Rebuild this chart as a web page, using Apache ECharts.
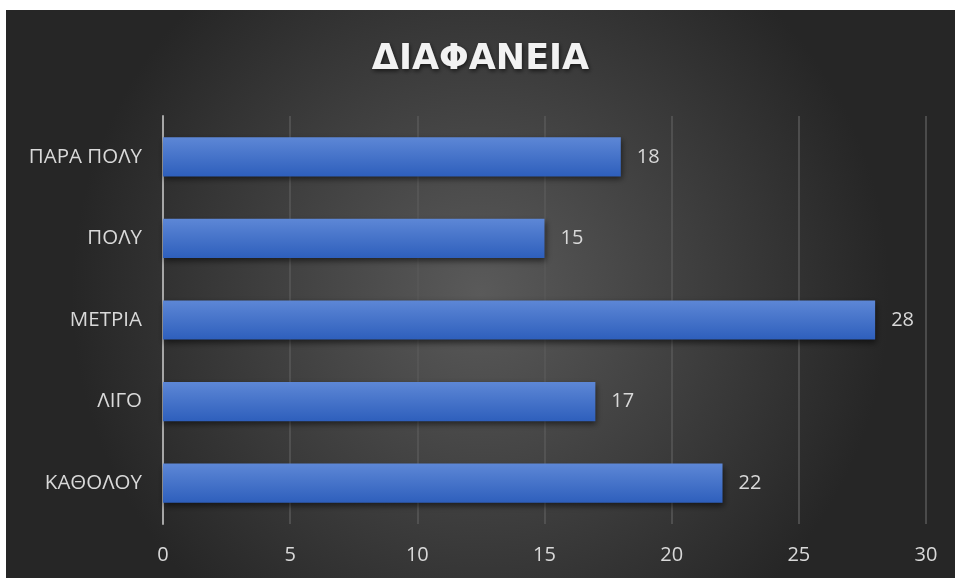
<!DOCTYPE html>
<html>
<head>
<meta charset="utf-8">
<script src="https://cdn.jsdelivr.net/npm/echarts@6/dist/echarts.min.js"></script>
<style>
  html, body { margin: 0; padding: 0; background: #ffffff; }
  #chart { position: absolute; left: 6px; top: 10px; width: 949px; height: 568px; }
</style>
</head>
<body>
<div id="chart"></div>
<script>
// Response categories, bottom to top as drawn on the y axis
const categories = ['ΚΑΘΟΛΟΥ', 'ΛΙΓΟ', 'ΜΕΤΡΙΑ', 'ΠΟΛΥ', 'ΠΑΡΑ ΠΟΛΥ'];
// Number of answers per category
const counts = [22, 17, 28, 15, 18];
// Value axis ticks
const xTicks = [0, 5, 10, 15, 20, 25, 30];

const chart = echarts.init(document.getElementById('chart'), null, { renderer: 'canvas' });

const labelFont = '"Open Sans", "DejaVu Sans", sans-serif';

chart.setOption({
  backgroundColor: {
    type: 'radial', x: 0.5, y: 0.5, r: 0.72,
    colorStops: [
      { offset: 0, color: '#5a5a5a' },
      { offset: 1, color: '#262626' }
    ]
  },
  title: {
    text: 'ΔΙΑΦΑΝΕΙΑ',
    left: 'center',
    top: 27,
    textStyle: {
      color: '#f2f2f2',
      fontFamily: '"DejaVu Sans", sans-serif',
      fontWeight: 'bold',
      fontSize: 35,
      textShadowColor: 'rgba(0,0,0,0.6)',
      textShadowBlur: 4,
      textShadowOffsetX: 1,
      textShadowOffsetY: 2
    }
  },
  grid: { left: 157, right: 29, top: 106, bottom: 54, containLabel: false },
  xAxis: {
    type: 'value',
    min: xTicks[0],
    max: xTicks[xTicks.length - 1],
    interval: 5,
    axisLine: { show: false },
    axisTick: { show: false },
    axisLabel: {
      color: '#d9d9d9', fontSize: 20, fontFamily: labelFont, margin: 21
    },
    splitLine: { show: true, lineStyle: { color: '#595959', width: 1.5 } }
  },
  yAxis: {
    type: 'category',
    data: categories,
    axisLine: { show: true, lineStyle: { color: '#a6a6a6', width: 2 } },
    axisTick: { show: false },
    axisLabel: {
      color: '#d9d9d9', fontSize: 20.5, fontFamily: labelFont, margin: 21
    }
  },
  series: [{
    type: 'bar',
    data: counts,
    barWidth: '48%',
    itemStyle: {
      color: {
        type: 'linear', x: 0, y: 0, x2: 0, y2: 1,
        colorStops: [
          { offset: 0, color: '#5d87d6' },
          { offset: 1, color: '#2e5fbc' }
        ]
      },
      shadowColor: 'rgba(0,0,0,0.55)',
      shadowBlur: 6,
      shadowOffsetX: 1,
      shadowOffsetY: 3
    },
    label: {
      show: true,
      position: 'right',
      distance: 16,
      color: '#d9d9d9',
      fontSize: 20,
      fontFamily: labelFont
    }
  }]
});
</script>
</body>
</html>
